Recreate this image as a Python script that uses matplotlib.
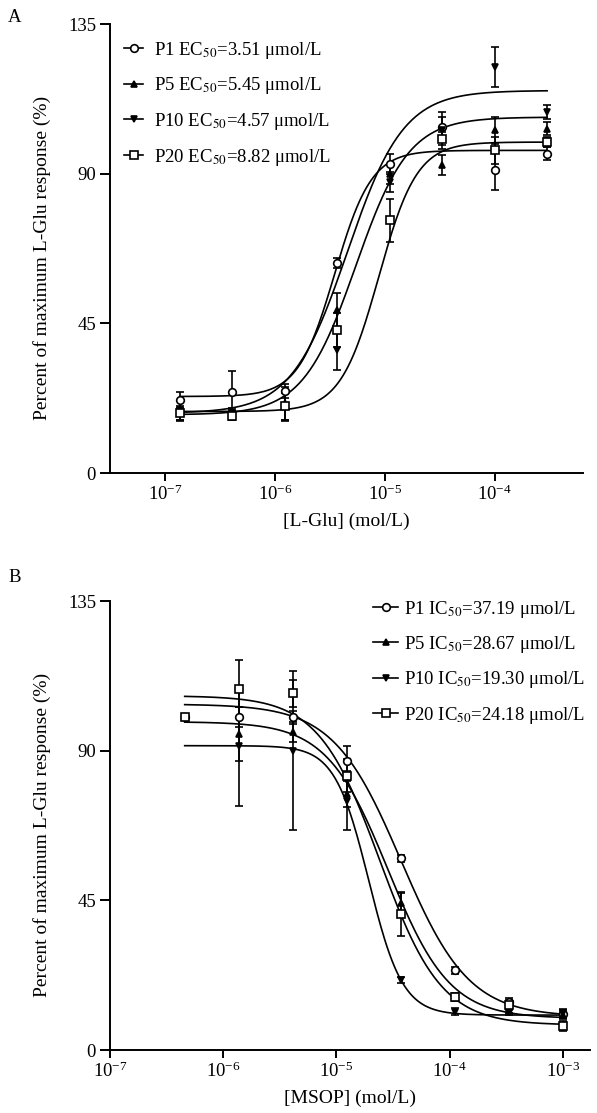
import numpy as np
import matplotlib
matplotlib.use('Agg')
import matplotlib.pyplot as plt
from matplotlib.lines import Line2D
from matplotlib.ticker import LogLocator, LogFormatterSciNotation, NullLocator

plt.rcParams['font.family'] = ['Liberation Serif', 'DejaVu Serif']
plt.rcParams['mathtext.fontset'] = 'stix'

# ---- panel A: L-Glu concentration-response ----
glu_conc = np.array([0.137, 0.41, 1.23, 3.7, 11.1, 33.3, 100, 300]) * 1e-6
glu_resp = {
    'P1':  [22.0, 24.4, 24.7, 63.0, 93.0, 104.0, 91.0, 96.0],
    'P5':  [18.5, 17.5, 21.0, 49.0, 90.0, 92.5, 103.0, 103.5],
    'P10': [19.0, 18.0, 20.0, 37.0, 87.5, 103.0, 122.0, 108.5],
    'P20': [18.0, 17.0, 20.0, 43.0, 76.0, 100.5, 97.0, 99.5],
}
glu_sem = {
    'P1':  [2.5, 6.3, 2.0, 1.5, 3.0, 3.0, 6.0, 2.0],
    'P5':  [3.0, 1.5, 5.0, 5.0, 3.0, 3.0, 4.0, 2.0],
    'P10': [3.0, 1.5, 4.5, 6.0, 3.0, 5.5, 6.0, 2.0],
    'P20': [2.0, 1.0, 4.0, 5.0, 6.5, 2.0, 4.0, 1.5],
}
# fitted 4-parameter logistic: bottom, top, EC50 (mol/L), hill
glu_fit = {
    'P1':  (23.0, 97.0, 3.51e-6, 2.6),
    'P5':  (17.5, 107.0, 5.45e-6, 1.8),
    'P10': (18.0, 115.0, 4.57e-6, 1.7),
    'P20': (18.5, 99.5, 8.82e-6, 2.5),
}
glu_labels = ['P1 EC$_{50}$=3.51 \u03bcmol/L', 'P5 EC$_{50}$=5.45 \u03bcmol/L',
              'P10 EC$_{50}$=4.57 \u03bcmol/L', 'P20 EC$_{50}$=8.82 \u03bcmol/L']

# ---- panel B: MSOP inhibition ----
msop_conc = np.array([0.457, 1.37, 4.12, 12.3, 37.0, 111, 333, 1000]) * 1e-6
msop_resp = {
    'P1':  [100.0, 100.0, 100.0, 87.0, 57.6, 24.0, 14.5, 10.8],
    'P5':  [100.0, 95.0, 95.7, 77.0, 44.2, 16.0, 12.0, 10.5],
    'P10': [100.0, 91.5, 90.0, 75.0, 21.0, 11.5, 11.5, 11.0],
    'P20': [100.0, 108.5, 107.2, 82.5, 41.0, 15.8, 13.5, 7.3],
}
msop_sem = {
    'P1':  [0.0, 3.0, 2.0, 4.5, 1.0, 1.0, 1.0, 1.5],
    'P5':  [0.0, 8.0, 3.0, 4.0, 3.0, 1.0, 1.0, 1.0],
    'P10': [0.0, 18.0, 24.0, 9.0, 1.0, 1.0, 1.0, 1.0],
    'P20': [0.0, 8.8, 4.0, 5.0, 6.6, 1.0, 1.5, 1.5],
}
msop_fit = {
    'P1':  (10.0, 104.0, 37.19e-6, 1.45),
    'P5':  (9.5, 98.7, 28.67e-6, 1.6),
    'P10': (10.5, 91.5, 19.30e-6, 2.9),
    'P20': (7.5, 106.5, 24.18e-6, 1.6),
}
msop_labels = ['P1 IC$_{50}$=37.19 \u03bcmol/L', 'P5 IC$_{50}$=28.67 \u03bcmol/L',
               'P10 IC$_{50}$=19.30 \u03bcmol/L', 'P20 IC$_{50}$=24.18 \u03bcmol/L']

series = ['P1', 'P5', 'P10', 'P20']
styles = {
    'P1':  dict(marker='o', ms=5.5, mfc='white'),
    'P5':  dict(marker='^', ms=4, mfc='black'),
    'P10': dict(marker='v', ms=4, mfc='black'),
    'P20': dict(marker='s', ms=5.5, mfc='white'),
}
FS = 13.5


def logistic(x, bottom, top, c50, hill, sign):
    return bottom + (top - bottom) / (1 + 10 ** (sign * (np.log10(c50) - np.log10(x)) * hill))


def draw_panel(ax, conc, resp, sem, fit, sign):
    xs = np.logspace(np.log10(conc[0]), np.log10(conc[-1]), 300)
    for s in series:
        b, t, c, h = fit[s]
        ax.plot(xs, logistic(xs, b, t, c, h, sign), color='black', lw=1.2, zorder=2)
        ax.errorbar(conc, resp[s], yerr=sem[s], fmt='none', ecolor='black',
                    elinewidth=1.2, capsize=3, capthick=1.2, zorder=3)
        ax.plot(conc, resp[s], ls='none', color='black', mec='black', mew=1.2,
                zorder=4, **styles[s])
    ax.set_xscale('log')
    ax.set_ylim(0, 135)
    ax.set_yticks([0, 45, 90, 135])
    ax.xaxis.set_major_locator(LogLocator(base=10, numticks=20))
    ax.xaxis.set_major_formatter(LogFormatterSciNotation())
    ax.xaxis.set_minor_locator(NullLocator())
    for side in ['top', 'right']:
        ax.spines[side].set_visible(False)
    for side in ['left', 'bottom']:
        ax.spines[side].set_linewidth(1.4)
    ax.tick_params(axis='y', direction='out', length=7, width=1.4, labelsize=FS, pad=3)
    ax.tick_params(axis='x', direction='out', length=5.5, width=1.4, labelsize=FS, pad=3)
    ax.set_ylabel('Percent of maximum L-Glu response (%)', fontsize=14)
    handles = [Line2D([], [], color='black', lw=1.2, mec='black', mew=1.2, **styles[s])
               for s in series]
    return handles


fig = plt.figure(figsize=(5.97, 11.13), dpi=100)
axA = fig.add_axes([0.18425, 0.57502, 0.7916, 0.40341])
axB = fig.add_axes([0.18425, 0.0566, 0.8040, 0.40341])

hA = draw_panel(axA, glu_conc, glu_resp, glu_sem, glu_fit, 1)
axA.set_xlim(10 ** -7.5, 10 ** -3.2)
axA.set_xlabel('[L-Glu] (mol/L)', fontsize=14, labelpad=6)
axA.yaxis.set_label_coords(-0.125, 0.48)
axA.legend(hA, glu_labels, loc='upper left', bbox_to_anchor=(0.03, 0.965), frameon=False,
           fontsize=FS, handlelength=1.0, handletextpad=0.6, labelspacing=0.78,
           borderaxespad=0, borderpad=0)

hB = draw_panel(axB, msop_conc, msop_resp, msop_sem, msop_fit, -1)
axB.set_xlim(1e-7, 10 ** -2.76)
axB.set_xlabel('[MSOP] (mol/L)', fontsize=14, labelpad=6)
axB.yaxis.set_label_coords(-0.123, 0.48)
axB.legend(hB, msop_labels, loc='upper right', bbox_to_anchor=(0.99, 1.005), frameon=False,
           fontsize=FS, handlelength=1.35, handletextpad=0.3, labelspacing=0.76,
           borderaxespad=0, borderpad=0)

fig.text(8 / 597, 1 - 18 / 1113, 'A', fontsize=FS, va='center', ha='left')
fig.text(8 / 597, 1 - 578 / 1113, 'B', fontsize=FS, va='center', ha='left')

fig.savefig('out.png', dpi=100)
